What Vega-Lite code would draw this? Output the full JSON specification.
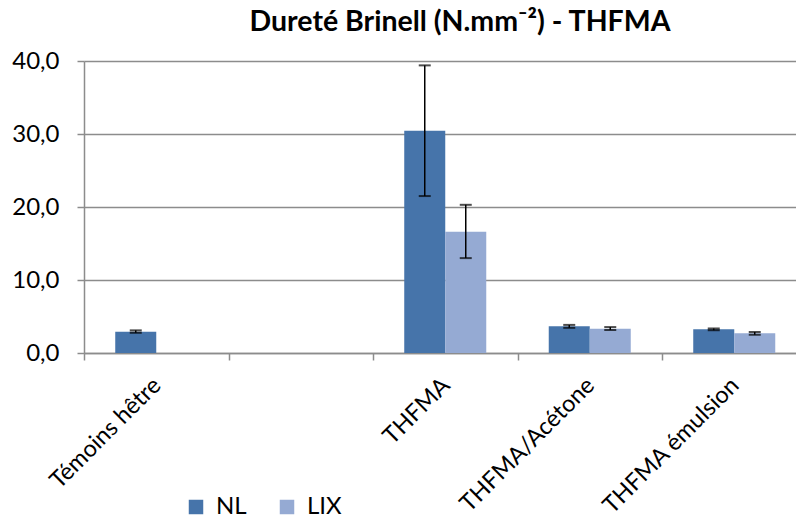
{
  "$schema": "https://vega.github.io/schema/vega-lite/v6.json",
  "autosize": {"type": "none"},
  "padding": {"left": 84, "top": 61, "right": 0, "bottom": 166},
  "width": 712,
  "height": 292,
  "background": "white",
  "title": {
    "text": "Dureté Brinell (N.mm⁻²) - THFMA",
    "font": "Lato",
    "fontSize": 28.5,
    "fontWeight": "bold",
    "color": "#000000",
    "anchor": "middle",
    "dx": 20,
    "offset": 13
  },
  "data": {
    "values": [
      {"categorie": "Témoins hêtre", "serie": "NL", "valeur": 2.92, "bas": 2.77, "haut": 3.1},
      {"categorie": "THFMA", "serie": "NL", "valeur": 30.45, "bas": 21.5, "haut": 39.4},
      {"categorie": "THFMA", "serie": "LIX", "valeur": 16.6, "bas": 13.0, "haut": 20.3},
      {"categorie": "THFMA/Acétone", "serie": "NL", "valeur": 3.65, "bas": 3.45, "haut": 3.85},
      {"categorie": "THFMA/Acétone", "serie": "LIX", "valeur": 3.33, "bas": 3.15, "haut": 3.55},
      {"categorie": "THFMA émulsion", "serie": "NL", "valeur": 3.24, "bas": 3.12, "haut": 3.36},
      {"categorie": "THFMA émulsion", "serie": "LIX", "valeur": 2.7, "bas": 2.5, "haut": 2.88}
    ]
  },
  "encoding": {
    "x": {
      "field": "categorie",
      "type": "nominal",
      "sort": null,
      "scale": {
        "domain": ["Témoins hêtre", " ", "THFMA", "THFMA/Acétone", "THFMA émulsion"],
        "range": [0, 722.5],
        "paddingInner": 0,
        "paddingOuter": 0
      },
      "axis": {
        "title": null,
        "labelAngle": -45,
        "labelFont": "Lato",
        "labelFontSize": 23.5,
        "labelColor": "#000000",
        "labelPadding": 13,
        "labelOffset": -8,
        "labelLimit": 0,
        "labelOverlap": false,
        "tickBand": "extent",
        "tickSize": 7,
        "tickColor": "#8c8c8c",
        "tickWidth": 1.5,
        "domainColor": "#8c8c8c",
        "domainWidth": 1.5,
        "grid": false
      }
    },
    "xOffset": {
      "field": "serie",
      "type": "nominal",
      "scale": {"domain": ["NL", "LIX"], "paddingInner": 0, "paddingOuter": 0.762}
    }
  },
  "layer": [
    {
      "mark": {"type": "bar"},
      "encoding": {
        "y": {
          "field": "valeur",
          "type": "quantitative",
          "scale": {"domain": [0, 40], "nice": false},
          "axis": {
            "title": null,
            "values": [0, 10, 20, 30, 40],
            "labelExpr": "replace(format(datum.value, '.1f'), '.', ',')",
            "labelFont": "Lato",
            "labelFontSize": 24,
            "labelColor": "#000000",
            "labelPadding": 18,
            "tickSize": 7,
            "tickColor": "#8c8c8c",
            "tickWidth": 1.5,
            "domainColor": "#8c8c8c",
            "domainWidth": 1.5,
            "grid": true,
            "gridColor": "#8c8c8c",
            "gridWidth": 1.5
          }
        },
        "color": {
          "field": "serie",
          "type": "nominal",
          "scale": {"domain": ["NL", "LIX"], "range": ["#4674aa", "#95aad3"]},
          "legend": {
            "title": null,
            "orient": "none",
            "direction": "horizontal",
            "legendX": 100,
            "legendY": 434,
            "symbolType": "square",
            "symbolSize": 210,
            "symbolStrokeWidth": 0,
            "labelFont": "Lato",
            "labelFontSize": 24,
            "labelColor": "#000000",
            "labelOffset": 8,
            "columnPadding": 28
          }
        }
      }
    },
    {
      "mark": {"type": "rule", "color": "#000000", "strokeWidth": 1.5},
      "encoding": {
        "y": {"field": "bas", "type": "quantitative"},
        "y2": {"field": "haut"}
      }
    },
    {
      "mark": {"type": "tick", "color": "#000000", "thickness": 2, "size": 12, "orient": "horizontal"},
      "encoding": {
        "y": {"field": "bas", "type": "quantitative"}
      }
    },
    {
      "mark": {"type": "tick", "color": "#000000", "thickness": 2, "size": 12, "orient": "horizontal"},
      "encoding": {
        "y": {"field": "haut", "type": "quantitative"}
      }
    }
  ],
  "config": {
    "view": {"stroke": null},
    "font": "Lato"
  }
}
